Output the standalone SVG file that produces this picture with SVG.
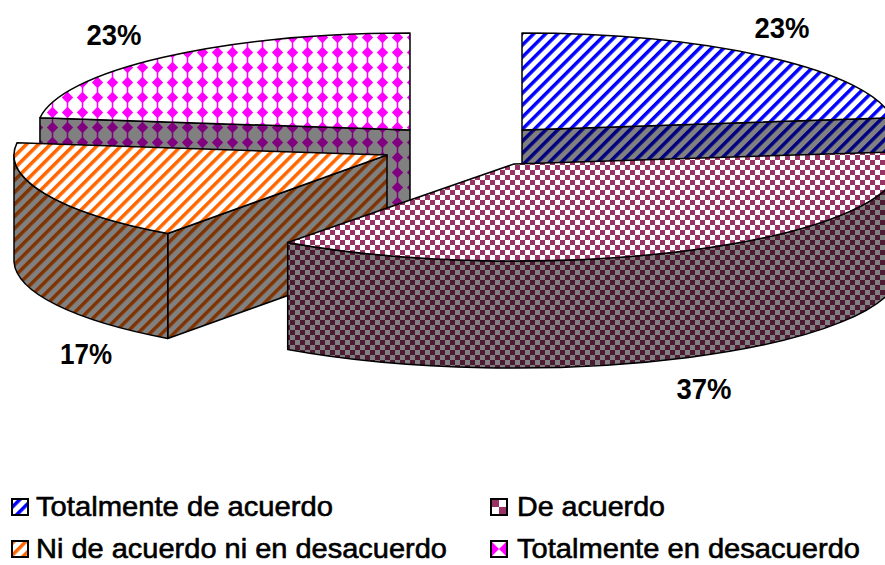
<svg xmlns="http://www.w3.org/2000/svg" width="885" height="565" viewBox="0 0 885 565">
<style>
.edge{stroke:#000;stroke-width:1.5;stroke-linejoin:round}
.lbl{font-family:"Liberation Sans",Arial,sans-serif;font-weight:bold;font-size:30px;fill:#000;text-anchor:middle}
.leg{font-family:"Liberation Sans",Arial,sans-serif;font-size:28px;fill:#000;stroke:#000;stroke-width:0.6}
.box{stroke:#000;stroke-width:2}
</style>
<defs>
<pattern id="blueTop" patternUnits="userSpaceOnUse" width="8.5" height="10" patternTransform="rotate(45)"><rect width="8.5" height="10" fill="#fff"/><rect width="3.5" height="10" fill="#0000ff"/></pattern>
<pattern id="blueSide" patternUnits="userSpaceOnUse" width="8.5" height="10" patternTransform="rotate(45)"><rect width="8.5" height="10" fill="#808080"/><rect width="3.5" height="10" fill="#000080"/></pattern>
<pattern id="orangeTop" patternUnits="userSpaceOnUse" width="8.5" height="10" patternTransform="rotate(45)"><rect width="8.5" height="10" fill="#fff"/><rect width="3.5" height="10" fill="#ff6600"/></pattern>
<pattern id="orangeSide" patternUnits="userSpaceOnUse" width="8.5" height="10" patternTransform="rotate(45)"><rect width="8.5" height="10" fill="#808080"/><rect width="3.5" height="10" fill="#803300"/></pattern>
<pattern id="purpleTop" patternUnits="userSpaceOnUse" width="10" height="10"><rect width="10" height="10" fill="#fff"/><rect width="5" height="5" fill="#993366"/><rect x="5" y="5" width="5" height="5" fill="#993366"/></pattern>
<pattern id="purpleSide" patternUnits="userSpaceOnUse" width="10" height="10"><rect width="10" height="10" fill="#808080"/><rect width="5" height="5" fill="#4d1933"/><rect x="5" y="5" width="5" height="5" fill="#4d1933"/></pattern>
<pattern id="pinkTop" patternUnits="userSpaceOnUse" width="15" height="15"><rect width="15" height="15" fill="#fff"/><rect x="6.75" width="1.5" height="15" fill="#ff00ff"/><polygon points="7.5,1.8 13.2,7.5 7.5,13.2 1.8,7.5" fill="#ff00ff"/></pattern>
<pattern id="pinkSide" patternUnits="userSpaceOnUse" width="15" height="15"><rect width="15" height="15" fill="#808080"/><rect x="6.75" width="1.5" height="15" fill="#800080"/><polygon points="7.5,1.8 13.2,7.5 7.5,13.2 1.8,7.5" fill="#800080"/></pattern>
</defs>
<rect width="885" height="565" fill="#fff"/>

<g id="slice-totalmente-desacuerdo">
<polygon class="edge" fill="url(#pinkSide)" points="410,130 39.94,117.84 39.94,222.84 410,235"/>
<path class="edge" fill="url(#pinkTop)" d="M410,130 L39.94,117.84 A373 97 0 0 1 410,33 Z"/>
</g>

<g id="slice-totalmente-acuerdo">
<polygon class="edge" fill="url(#blueSide)" points="522,130 892.06,117.84 892.06,222.84 522,235"/>
<path class="edge" fill="url(#blueTop)" d="M522,130 L522,33 A373 97 0 0 1 892.06,117.84 Z"/>
</g>

<g id="slice-ni-acuerdo">
<polygon class="edge" fill="url(#orangeSide)" points="387,155 167.76,233.47 167.76,338.47 387,260"/>
<path class="edge" fill="url(#orangeSide)" d="M167.76,233.47 A373 97 0 0 1 14,155 L14,262 A373 97 0 0 0 167.76,338.47 Z"/>
<path class="edge" fill="url(#orangeTop)" d="M387,155 L167.76,233.47 A373 97 0 0 1 16.94,142.84 Z"/>
</g>

<g id="slice-de-acuerdo">
<path class="edge" fill="url(#purpleSide)" d="M899,164 A385 97 0 0 1 287.7,242.47 L287.7,349.47 A385 97 0 0 0 899,271 Z"/>
<path class="edge" fill="url(#purpleTop)" d="M514,164 L895.96,151.84 A385 97 0 0 1 287.7,242.47 Z"/>
</g>

<g id="labels">
<text class="lbl" x="114" y="45" textLength="55" lengthAdjust="spacingAndGlyphs">23%</text>
<text class="lbl" x="782" y="38" textLength="55" lengthAdjust="spacingAndGlyphs">23%</text>
<text class="lbl" x="86" y="364" textLength="52" lengthAdjust="spacingAndGlyphs">17%</text>
<text class="lbl" x="704" y="399" textLength="55" lengthAdjust="spacingAndGlyphs">37%</text>
</g>

<g id="legend">
<g id="legend-totalmente-acuerdo">
<rect class="box" x="12" y="499" width="16" height="16" fill="url(#blueTop)"/>
<text class="leg" x="36" y="516" textLength="297" lengthAdjust="spacingAndGlyphs">Totalmente de acuerdo</text>
</g>
<g id="legend-de-acuerdo">
<rect class="box" x="491" y="499" width="16" height="16" fill="#fff"/>
<rect x="491" y="499" width="8" height="8" fill="#993366"/>
<rect x="499" y="507" width="8" height="8" fill="#993366"/>
<rect x="491" y="499" width="16" height="16" fill="none" stroke="#000" stroke-width="2"/>
<text class="leg" x="517" y="516" textLength="148" lengthAdjust="spacingAndGlyphs">De acuerdo</text>
</g>
<g id="legend-ni-acuerdo">
<rect class="box" x="12" y="541" width="16" height="16" fill="url(#orangeTop)"/>
<text class="leg" x="36" y="558" textLength="411" lengthAdjust="spacingAndGlyphs">Ni de acuerdo ni en desacuerdo</text>
</g>
<g id="legend-totalmente-desacuerdo">
<rect class="box" x="491" y="541" width="16" height="16" fill="#fff"/>
<polygon points="491,541 499,549 491,557" fill="#ff00ff"/>
<polygon points="507,541 499,549 507,557" fill="#ff00ff"/>
<rect x="491" y="541" width="16" height="16" fill="none" stroke="#000" stroke-width="2"/>
<text class="leg" x="517" y="558" textLength="343" lengthAdjust="spacingAndGlyphs">Totalmente en desacuerdo</text>
</g>
</g>
</svg>
